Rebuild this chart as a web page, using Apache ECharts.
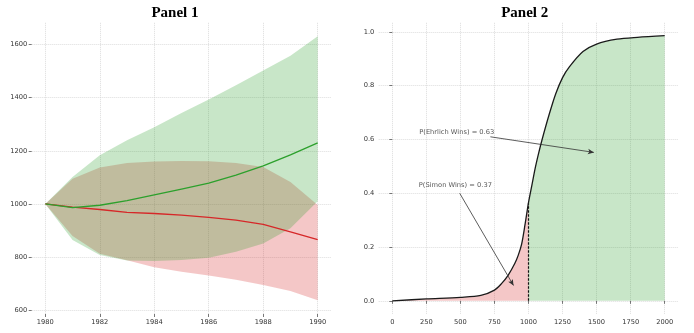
<!DOCTYPE html>
<html><head><meta charset="utf-8">
<script src="https://cdn.jsdelivr.net/npm/echarts@6/dist/echarts.min.js"></script>
<style>html,body{margin:0;padding:0;background:#fff}#c{width:694px;height:333px}</style>
</head><body><div id="c"></div>
<script>
// ---------- Panel 1 data ----------
const years      = [1980, 1981, 1982, 1983, 1984, 1985, 1986, 1987, 1988, 1989, 1990];
const greenMean  = [1000, 986, 995, 1012, 1034, 1056, 1078, 1108, 1143, 1185, 1230];
const greenLow   = [1000, 864, 808, 787, 785, 789, 797, 820, 851, 908, 1010];
const greenHigh  = [1000, 1101, 1183, 1240, 1289, 1342, 1393, 1447, 1502, 1558, 1631];
const redMean    = [1000, 988, 979, 968, 964, 958, 949, 939, 923, 895, 866];
const redLow     = [1000, 879, 812, 788, 762, 745, 730, 714, 695, 672, 637];
const redHigh    = [1000, 1095, 1137, 1154, 1160, 1162, 1161, 1154, 1139, 1083, 996];
const p1XTicks   = [1980, 1982, 1984, 1986, 1988, 1990];
const p1YTicks   = [600, 800, 1000, 1200, 1400, 1600];

// ---------- Panel 2 data ----------
const cdfX = [0, 250, 500, 650, 750, 800, 850, 900, 925, 950, 975, 1000, 1025, 1050, 1075, 1100, 1150, 1200, 1250, 1300, 1400, 1500, 1650, 1800, 2000];
const cdfY = [0.0, 0.007, 0.013, 0.02, 0.04, 0.063, 0.095, 0.14, 0.17, 0.212, 0.285, 0.365, 0.43, 0.495, 0.55, 0.6, 0.69, 0.77, 0.83, 0.87, 0.927, 0.955, 0.973, 0.98, 0.986];
const threshold = 1000;
const p2XTicks = [0, 250, 500, 750, 1000, 1250, 1500, 1750, 2000];
const p2YTicks = [0, 0.2, 0.4, 0.6, 0.8, 1.0];
const annTexts   = ['P(Ehrlich Wins) = 0.63', 'P(Simon Wins) = 0.37'];
const annTextAt  = [[194, 0.628], [191, 0.429]];
const annFrom    = [[720, 0.61], [495, 0.40]];
const annTo      = [[1480, 0.552], [890, 0.057]];

const titles = ['Panel 1', 'Panel 2'];

// ---------- helpers ----------
const FONT = 'DejaVu Sans';
const GREEN = 'rgb(44,160,44)';
const RED = 'rgb(214,39,40)';
const GREEN_FILL = 'rgba(44,160,44,0.26)';
const RED_FILL = 'rgba(214,39,40,0.26)';
const pair = (xs, ys) => xs.map((x, i) => [x, ys[i]]);

function axisCommon(ticks, fmt, margin) {
  return {
    type: 'value',
    axisLine: { show: false },
    axisTick: { show: true, length: 3, customValues: ticks, lineStyle: { color: '#555', width: 0.8 } },
    axisLabel: { customValues: ticks, fontSize: 6.7, color: '#333', fontFamily: FONT, margin: margin, formatter: fmt },
    splitLine: { show: true, lineStyle: { color: '#d4d4d4', width: 0.8, type: [1, 1] } }
  };
}

function bandSeries(lo, hi, fill) {
  return {
    type: 'custom', xAxisIndex: 0, yAxisIndex: 0, silent: true,
    data: years.map((y, i) => [y, lo[i], hi[i]]),
    encode: { x: 0, y: [1, 2] },
    renderItem: function (params, api) {
      if (params.dataIndex !== 0) return null;
      const upper = years.map((y, i) => api.coord([y, hi[i]]));
      const lower = years.map((y, i) => api.coord([y, lo[i]])).reverse();
      return { type: 'polygon', shape: { points: upper.concat(lower) }, style: { fill: fill } };
    }
  };
}

const cdfPts = pair(cdfX, cdfY);
const thrY = cdfY[cdfX.indexOf(threshold)];
const SM = 0.3;

const option = {
  animation: false,
  backgroundColor: '#fff',
  title: [
    { text: titles[0], left: 170, top: 1, textAlign: 'center',
      textStyle: { fontFamily: 'Liberation Serif', fontSize: 15, fontWeight: 'bold', color: '#000' } },
    { text: titles[1], left: 519.7, top: 1, textAlign: 'center',
      textStyle: { fontFamily: 'Liberation Serif', fontSize: 15, fontWeight: 'bold', color: '#000' } }
  ],
  grid: [
    { left: 31.7, top: 22.8, width: 299.6, height: 291.2 },
    { left: 378.7, top: 22.8, width: 299.6, height: 291.2 }
  ],
  xAxis: [
    Object.assign(axisCommon(p1XTicks, v => String(v), 4.5), { gridIndex: 0, min: 1979.5, max: 1990.5 }),
    Object.assign(axisCommon(p2XTicks, v => String(v), 4.5), { gridIndex: 1, min: -100, max: 2100 })
  ],
  yAxis: [
    Object.assign(axisCommon(p1YTicks, v => String(v), 4.4), { gridIndex: 0, min: 585.5, max: 1682 }),
    Object.assign(axisCommon(p2YTicks, v => v.toFixed(1), 4.4), { gridIndex: 1, min: -0.049, max: 1.034 })
  ],
  series: [
    bandSeries(redLow, redHigh, RED_FILL),
    bandSeries(greenLow, greenHigh, GREEN_FILL),
    { type: 'line', xAxisIndex: 0, yAxisIndex: 0, data: pair(years, redMean), symbol: 'none',
      lineStyle: { color: RED, width: 1.3 } },
    { type: 'line', xAxisIndex: 0, yAxisIndex: 0, data: pair(years, greenMean), symbol: 'none',
      lineStyle: { color: GREEN, width: 1.3 } },

    // Panel 2 fills
    { type: 'line', xAxisIndex: 1, yAxisIndex: 1, data: cdfPts.filter(p => p[0] <= threshold),
      symbol: 'none', smooth: SM, lineStyle: { width: 0, opacity: 0 },
      areaStyle: { color: RED_FILL, opacity: 1 }, silent: true },
    { type: 'line', xAxisIndex: 1, yAxisIndex: 1, data: cdfPts.filter(p => p[0] >= threshold),
      symbol: 'none', smooth: SM, lineStyle: { width: 0, opacity: 0 },
      areaStyle: { color: GREEN_FILL, opacity: 1 }, silent: true },
    // dashed threshold
    { type: 'line', xAxisIndex: 1, yAxisIndex: 1, data: [[threshold, 0], [threshold, thrY]],
      symbol: 'none', lineStyle: { color: '#111', width: 1.2, type: [2.5, 1.5] } },
    // CDF curve
    { type: 'line', xAxisIndex: 1, yAxisIndex: 1, data: cdfPts, symbol: 'none', smooth: SM,
      lineStyle: { color: '#1a1a1a', width: 1.3 } },
    // annotations
    { type: 'scatter', xAxisIndex: 1, yAxisIndex: 1, data: annTextAt, symbolSize: 1,
      itemStyle: { color: 'rgba(0,0,0,0)' }, silent: true,
      label: { show: true, position: 'right', distance: 0, fontSize: 6.7, fontFamily: FONT, color: '#2a2a2a',
        formatter: p => annTexts[p.dataIndex] },
      markLine: { silent: true, symbol: ['none', 'arrow'], symbolSize: [4, 6],
        lineStyle: { color: '#333', width: 0.8, type: 'solid' }, label: { show: false },
        data: annFrom.map((f, i) => [{ coord: f }, { coord: annTo[i] }]) } }
  ]
};
echarts.init(document.getElementById('c'), null, { renderer: 'canvas' }).setOption(option);
</script>
</body></html>
